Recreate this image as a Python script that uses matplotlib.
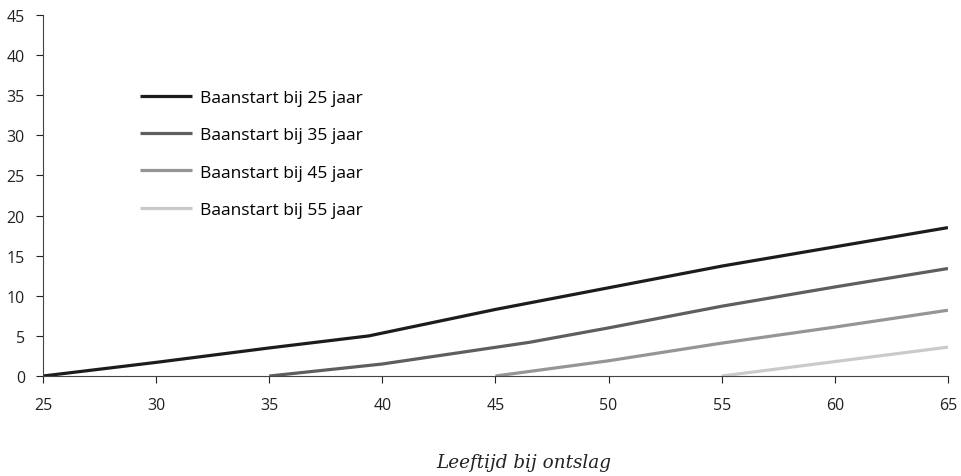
import matplotlib.pyplot as plt

# leeftijd bij ontslag (x) en opgebouwde vergoeding (y), per baanstart
x_25 = [25, 30, 35, 39.4, 45, 50, 55, 60, 65]
y_25 = [0, 1.7, 3.5, 5.0, 8.3, 11.0, 13.7, 16.1, 18.5]
x_35 = [35, 40, 46.5, 50, 55, 60, 65]
y_35 = [0, 1.5, 4.2, 6.0, 8.7, 11.1, 13.4]
x_45 = [45, 50, 55, 60, 65]
y_45 = [0, 1.9, 4.1, 6.1, 8.2]
x_55 = [55, 60, 65]
y_55 = [0, 1.8, 3.6]

labels = ['Baanstart bij 25 jaar', 'Baanstart bij 35 jaar',
          'Baanstart bij 45 jaar', 'Baanstart bij 55 jaar']
colors = ['#1c1c1c', '#5e5e5e', '#959595', '#cacaca']

plt.rcParams['font.family'] = ['Open Sans', 'DejaVu Sans']

fig = plt.figure(figsize=(9.62, 4.77), dpi=100)
ax = fig.add_axes([0.0447, 0.2096, 0.9407, 0.7569])

series = [(x_25, y_25), (x_35, y_35), (x_45, y_45), (x_55, y_55)]
for (xs, ys), lab, c in zip(series, labels, colors):
    ax.plot(xs, ys, color=c, lw=2.3, label=lab, solid_capstyle='butt')

ax.set_xlim(25, 65)
ax.set_ylim(0, 45)
ax.set_xticks(range(25, 66, 5))
ax.set_yticks(range(0, 46, 5))
ax.tick_params(axis='both', labelsize=11.5, colors='#222222', length=5, width=0.8)
ax.tick_params(axis='x', pad=10)
ax.tick_params(axis='y', pad=8)

for s in ['top', 'right']:
    ax.spines[s].set_visible(False)
for s in ['left', 'bottom']:
    ax.spines[s].set_color('#444444')
    ax.spines[s].set_linewidth(0.8)

ax.legend(loc='upper left', bbox_to_anchor=(0.107, 0.792), frameon=False,
          fontsize=12.5, handlelength=3.0, handletextpad=0.46,
          labelspacing=1.21, borderpad=0, borderaxespad=0)

fig.text(0.544, 0.029, 'Leeftijd bij ontslag', family='DejaVu Serif',
         style='italic', fontsize=13.2, ha='center', va='center', color='#222222')

fig.savefig('out.png', dpi=100)
